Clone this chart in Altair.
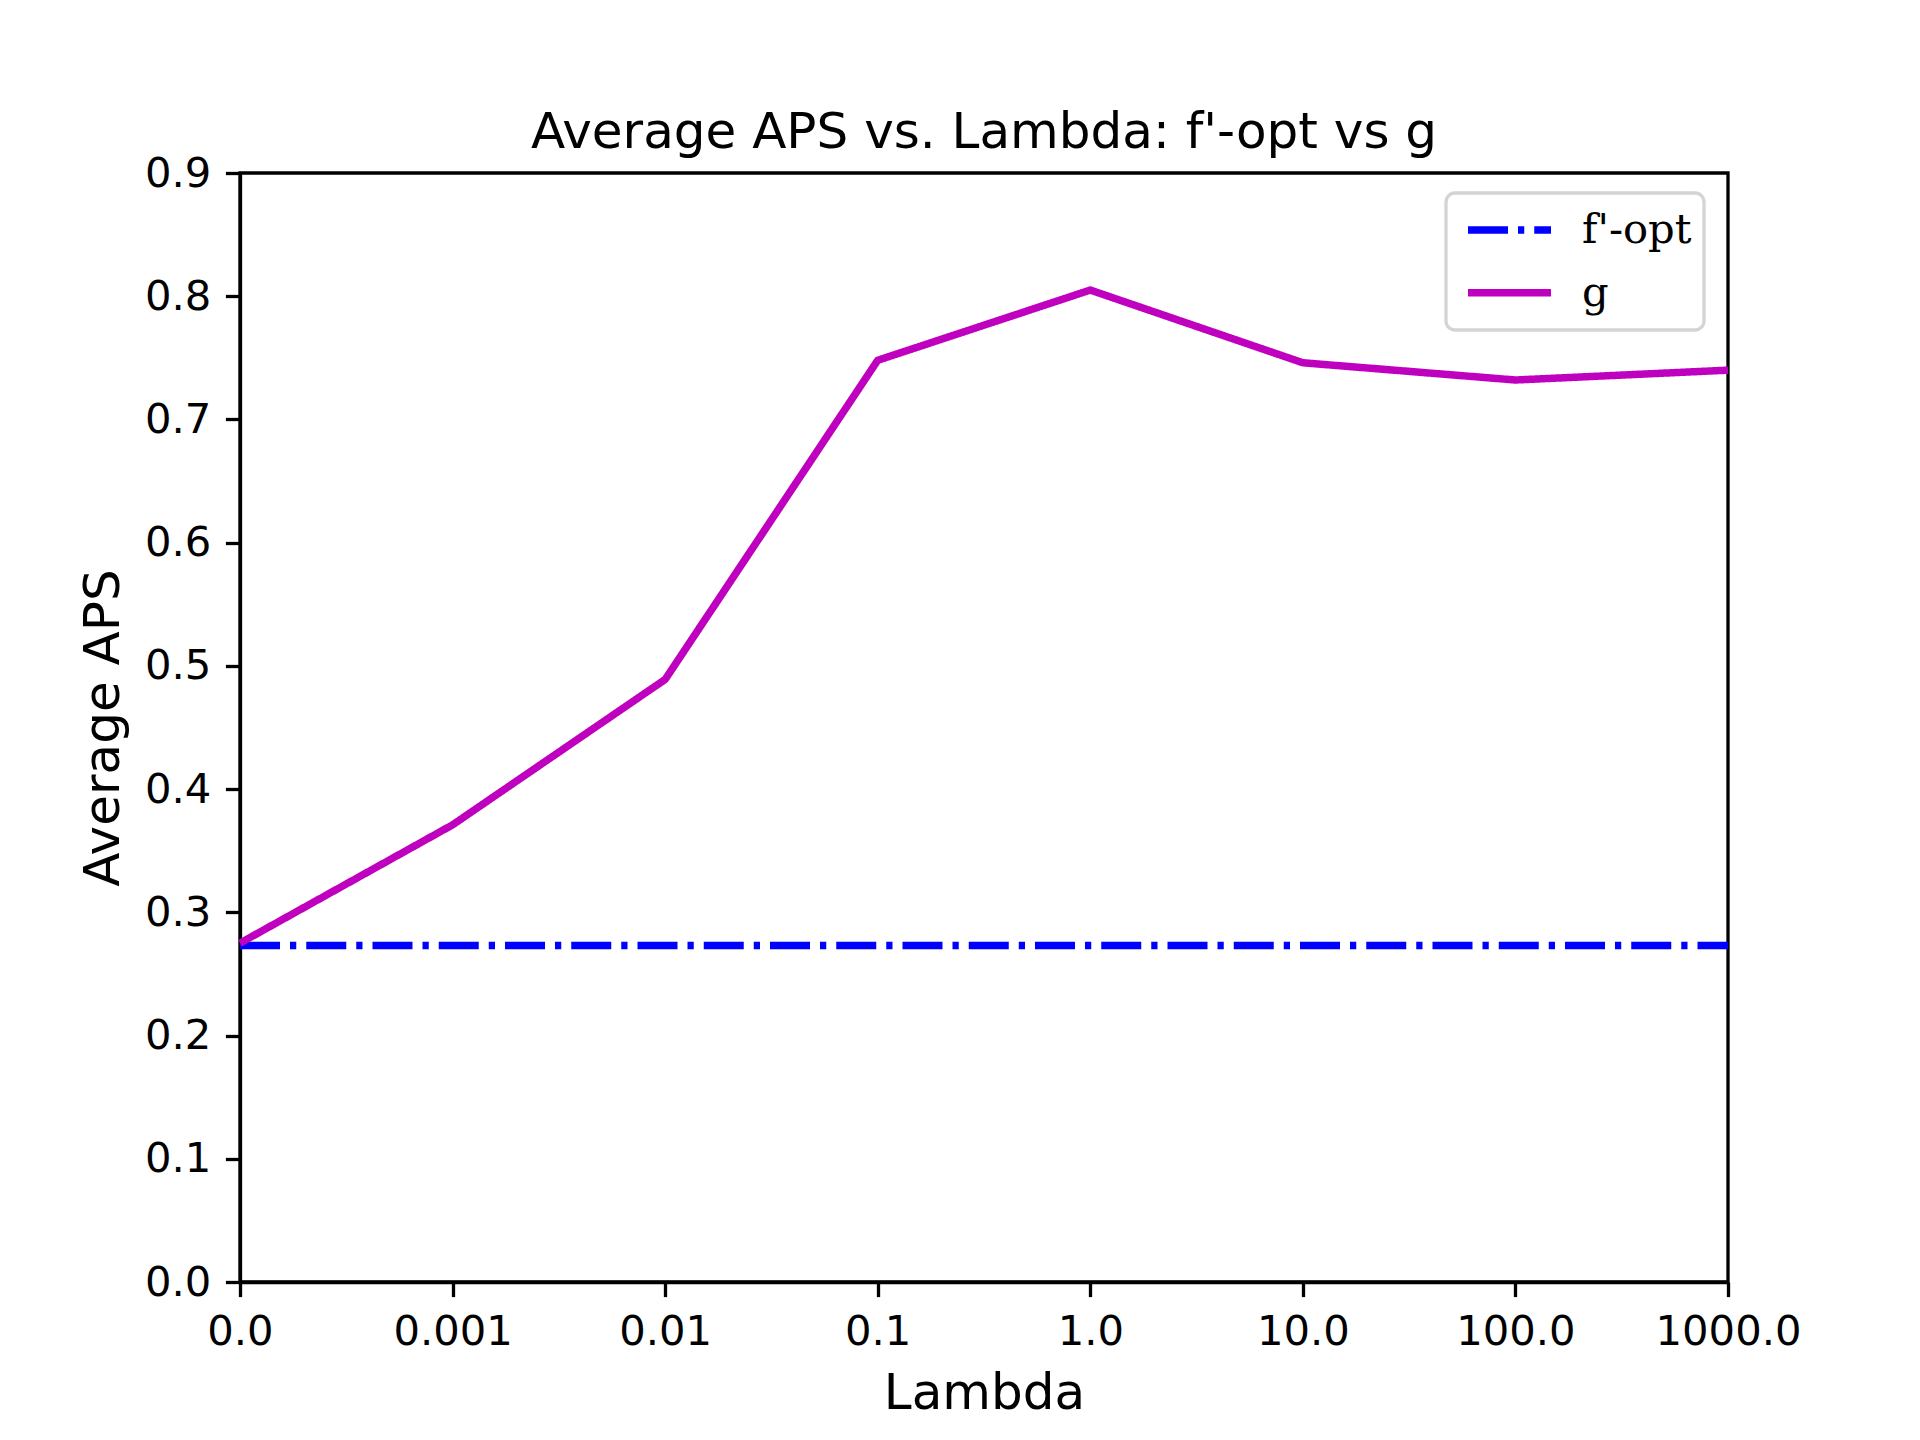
import altair as alt
import pandas as pd

lambda_labels = ["0.0", "0.001", "0.01", "0.1", "1.0", "10.0", "100.0", "1000.0"]
f_opt_values = [0.273, 0.273, 0.273, 0.273, 0.273, 0.273, 0.273, 0.273]
g_values = [0.275, 0.371, 0.489, 0.748, 0.805, 0.746, 0.732, 0.740]
series_names = ["f'-opt", "g"]
series_colors = ["#0000ff", "#bf00bf"]

rows = []
for lab, v in zip(lambda_labels, f_opt_values):
    rows.append({"Lambda": lab, "APS": v, "series": series_names[0], "order": 0})
for lab, v in zip(lambda_labels, g_values):
    rows.append({"Lambda": lab, "APS": v, "series": series_names[1], "order": 1})
df = pd.DataFrame(rows)

LW = 7.5
chart = alt.Chart(df).mark_line(strokeWidth=LW, strokeCap="butt", strokeJoin="round").encode(
    x=alt.X("Lambda:O", sort=lambda_labels,
            scale=alt.Scale(type="point", padding=0),
            axis=alt.Axis(title="Lambda", labelAngle=0)),
    y=alt.Y("APS:Q", scale=alt.Scale(domain=[0, 0.9], nice=False, zero=True),
            axis=alt.Axis(title="Average APS", values=[0, 0.1, 0.2, 0.3, 0.4, 0.5, 0.6, 0.7, 0.8, 0.9],
                          format=".1f")),
    color=alt.Color("series:N", scale=alt.Scale(domain=series_names, range=series_colors),
                    legend=alt.Legend(title=None, orient="none", legendX=1206, legendY=20,
                                      symbolType="stroke", symbolSize=6889, symbolStrokeWidth=LW,
                                      labelFont="DejaVu Serif", labelFontSize=41.7, labelColor="black",
                                      labelOffset=27, padding=12, rowPadding=12.7, symbolOffset=6,
                                      clipHeight=50,
                                      strokeColor="#d4d4d4", fillColor="white", cornerRadius=9)),
    strokeDash=alt.StrokeDash("series:N", scale=alt.Scale(domain=series_names,
                                                         range=[[40, 10, 6.25, 10], [1, 0]])),
    order=alt.Order("order:Q"),
).properties(
    width=1488,
    height=1109,
    title=alt.TitleParams("Average APS vs. Lambda: f'-opt vs g", fontSize=50, font="DejaVu Sans",
                          fontWeight="normal", anchor="middle", baseline="alphabetic", offset=0,
                          dy=45, color="black"),
    autosize=alt.AutoSizeParams(type="none"),
    padding={"left": 232, "top": 165, "right": 184, "bottom": 150},
).configure_view(
    stroke="black", strokeWidth=3.3
).configure_axis(
    grid=False,
    domainColor="black", domainWidth=3.3,
    tickColor="black", tickWidth=3.3, tickSize=14.6,
    labelPadding=14.6, labelFont="DejaVu Sans", labelFontSize=41.7, labelColor="black",
    titleFont="DejaVu Sans", titleFontSize=50, titleFontWeight="normal", titleColor="black",
    titlePadding=16,
).configure_legend(
    strokeWidth=3.3
)

chart.save("out.html", embed_options={"renderer": "svg", "actions": False})
